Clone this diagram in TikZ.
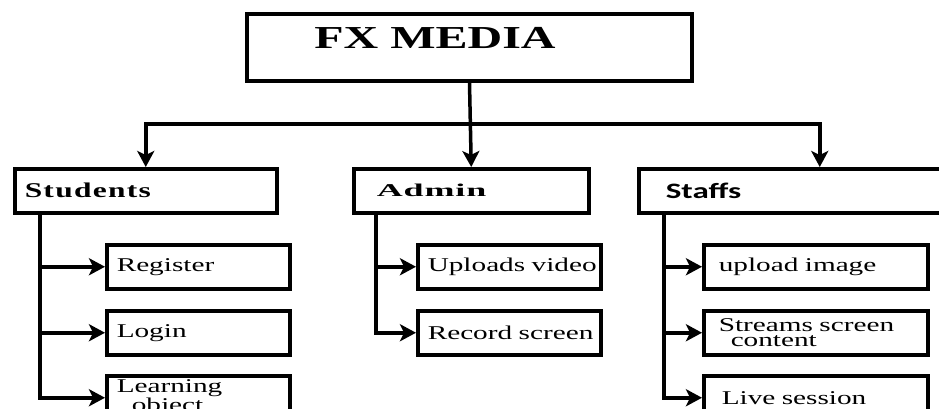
\documentclass[tikz,border=0pt]{standalone}
\usepackage{fontspec}
\usepackage{tikz}
\usetikzlibrary{
  arrows.meta,
  positioning
}
\newfontfamily\chartserif{Liberation Serif}[FakeStretch=1.5]
\newfontfamily\rolefont{Liberation Serif}[FakeStretch=1.5,LetterSpace=6]
\newfontfamily\adminfont{Liberation Serif}[FakeStretch=2,LetterSpace=5]
\newfontfamily\staffsfont{Carlito}[FakeStretch=1.5]
\tikzset{
  rootbox/.style={
    draw,
    line width=3.8pt,
    minimum width=445pt,
    minimum height=67pt,
    inner sep=0pt
  },
  rolebox/.style={
    draw,
    line width=3.5pt,
    anchor=north west,
    minimum height=44pt,
    inner ysep=0pt,
    align=left
  },
  leafbox/.style={
    draw,
    line width=3.5pt,
    anchor=north west,
    minimum height=44pt,
    inner ysep=0pt,
    inner xsep=10pt,
    text width=163pt,
    align=left,
    font=\chartserif\fontsize{19.5}{15}\selectfont
  },
  staffleaf/.style={
    leafbox,
    inner xsep=15pt,
    text width=194pt
  },
  link/.style={
    line width=3.5pt
  },
  arrow/.style={
    link,
    -{Stealth[length=16pt,width=17pt,inset=4pt]}
  }
}

\begin{document}
\begin{tikzpicture}[x=1pt,y=-1pt]
\useasboundingbox (0,0) rectangle (939,409);
\clip (0,0) rectangle (939,409);

% top of the chart
\node[rootbox] (fx) at (469.5,47.5) {};
\node[inner sep=0pt, font=\chartserif\bfseries\fontsize{32}{32}\selectfont] (fxtitle) at (435,38) {FX MEDIA};

% the three user groups
\node[rolebox, inner xsep=10pt, text width=242pt,
      font=\rolefont\bfseries\fontsize{21}{21}\selectfont] (students) at (13,167) {Students};
\node[rolebox, inner xsep=23pt, text width=189pt,
      font=\adminfont\bfseries\fontsize{18}{18}\selectfont] (admin) at (352,167) {Admin};
\node[rolebox, inner xsep=27pt, text width=308pt,
      font=\staffsfont\bfseries\fontsize{22}{22}\selectfont] (staffs) at (637,167) {Staffs};

% students
\node[leafbox] (register) at (105,243) {Register};
\node[leafbox] (login) at (105,309) {Login};
\node[leafbox] (learnobj) at (105,374) {Learning\\\hspace*{15pt}object};

% admin
\node[leafbox] (uploadvid) at (416,243) {\mbox{Uploads video}};
\node[leafbox] (recscreen) at (416,309) {\mbox{Record screen}};

% staffs
\node[staffleaf] (uploadimg) at (702,243) {upload image};
\node[staffleaf] (streams) at (702,309) {Streams screen\\\hspace*{12pt}content};
\node[staffleaf] (livesess) at (702,374) {\hspace*{3pt}Live session};

% connectors
\coordinate (split) at (470,124);
\coordinate (sbus) at (40,211);
\coordinate (abus) at (376,211);
\coordinate (fbus) at (664,211);

\draw[arrow] (fx.south) -- (admin.north);
\draw[arrow] (split) -| (students.north);
\draw[arrow] (split) -| (staffs.north);

\draw[arrow] (sbus) |- (register.west);
\draw[arrow] (sbus) |- (login.west);
\draw[arrow] (sbus) |- (learnobj.west);

\draw[arrow] (abus) |- (uploadvid.west);
\draw[arrow] (abus) |- (recscreen.west);

\draw[arrow] (fbus) |- (uploadimg.west);
\draw[arrow] (fbus) |- (streams.west);
\draw[arrow] (fbus) |- (livesess.west);
\end{tikzpicture}
\end{document}
